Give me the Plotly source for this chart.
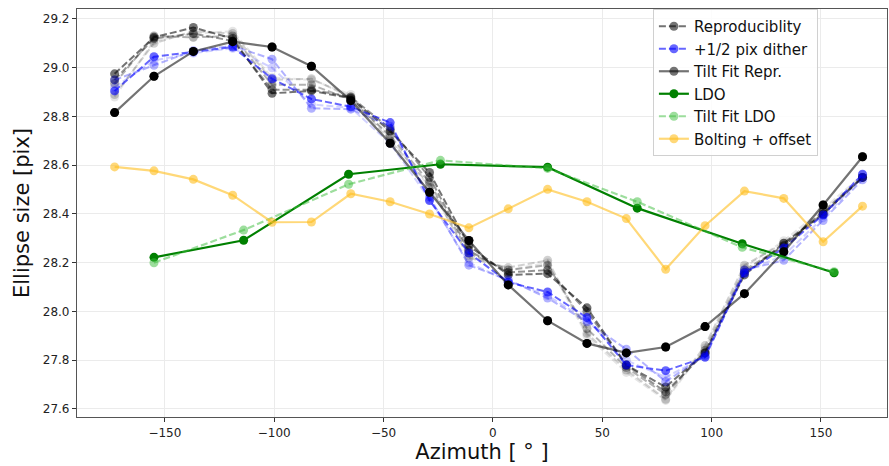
import plotly.graph_objects as go

# Azimuth sampling of the repeated measurements [deg]
azimuth = [-173, -155, -137, -119, -101, -83, -65, -47, -29, -11,
           7, 25, 43, 61, 79, 97, 115, 133, 151, 169]

# Reproducibility runs (same setup, repeated)
repro_1 = [28.975, 29.125, 29.165, 29.120, 28.895, 28.905, 28.875, 28.740, 28.570, 28.270,
           28.150, 28.155, 28.015, 27.780, 27.690, 27.830, 28.150, 28.280, 28.400, 28.550]
repro_2 = [28.950, 29.120, 29.140, 29.110, 28.910, 28.910, 28.880, 28.750, 28.550, 28.250,
           28.160, 28.170, 28.000, 27.780, 27.670, 27.830, 28.160, 28.270, 28.400, 28.550]
repro_3 = [28.935, 29.130, 29.125, 29.130, 28.930, 28.930, 28.870, 28.720, 28.530, 28.240,
           28.170, 28.190, 27.930, 27.770, 27.660, 27.840, 28.170, 28.270, 28.410, 28.550]
repro_4 = [28.890, 29.100, 29.150, 29.140, 28.950, 28.955, 28.880, 28.700, 28.520, 28.220,
           28.180, 28.210, 27.910, 27.760, 27.640, 27.860, 28.190, 28.280, 28.410, 28.550]
repro_5 = [28.880, 29.110, 29.140, 29.150, 28.960, 28.950, 28.890, 28.710, 28.510, 28.230,
           28.170, 28.200, 27.900, 27.750, 27.635, 27.850, 28.180, 28.290, 28.420, 28.560]

# Half-pixel dithered runs
dither_1 = [28.905, 29.045, 29.065, 29.085, 28.955, 28.872, 28.840, 28.775, 28.455, 28.240,
            28.120, 28.080, 27.975, 27.780, 27.757, 27.812, 28.157, 28.260, 28.396, 28.563]
dither_2 = [28.950, 29.010, 29.070, 29.090, 29.035, 28.834, 28.830, 28.760, 28.470, 28.190,
            28.130, 28.055, 27.958, 27.845, 27.712, 27.820, 28.170, 28.210, 28.373, 28.540]
dither_3 = [28.920, 29.030, 29.060, 29.080, 29.000, 28.850, 28.835, 28.690, 28.460, 28.200,
            28.125, 28.065, 27.965, 27.800, 27.730, 27.815, 28.165, 28.230, 28.385, 28.550]

# Tilt fit to the reproducibility runs
tilt_fit_repr = [28.816, 28.965, 29.067, 29.107, 29.085, 29.006, 28.865, 28.690, 28.489, 28.291,
                 28.109, 27.962, 27.869, 27.830, 27.854, 27.938, 28.073, 28.245, 28.437, 28.635]

# Bolting + offset
bolting = [28.593, 28.577, 28.542, 28.477, 28.366, 28.367, 28.483, 28.450, 28.400, 28.343,
           28.421, 28.501, 28.450, 28.381, 28.173, 28.352, 28.494, 28.464, 28.286, 28.432]

# LDO azimuths and values
azimuth_ldo = [-155, -114, -66, -24, 25, 66, 114, 156]
ldo = [28.222, 28.292, 28.563, 28.604, 28.592, 28.424, 28.278, 28.159]
tilt_fit_ldo = [28.200, 28.334, 28.522, 28.620, 28.587, 28.450, 28.263, 28.163]

FONT = "DejaVu Sans"

fig = go.Figure()

repro_runs = [(repro_1, 0.55), (repro_2, 0.42), (repro_3, 0.3), (repro_4, 0.18), (repro_5, 0.1)]
for i, (vals, a) in enumerate(repro_runs):
    c = f"rgba(0,0,0,{a})"
    fig.add_trace(go.Scatter(
        x=azimuth, y=vals, mode="lines+markers", name="Reproduciblity",
        legendgroup="repro", showlegend=(i == 0),
        line=dict(color=c, width=2, dash="7px,3px"),
        marker=dict(color=c, size=9),
    ))

dither_runs = [(dither_1, 0.6), (dither_2, 0.3), (dither_3, 0.18)]
for i, (vals, a) in enumerate(dither_runs):
    c = f"rgba(0,0,255,{a})"
    fig.add_trace(go.Scatter(
        x=azimuth, y=vals, mode="lines+markers", name="+1/2 pix dither",
        legendgroup="dither", showlegend=(i == 0),
        line=dict(color=c, width=2, dash="7px,3px"),
        marker=dict(color=c, size=9),
    ))

fig.add_trace(go.Scatter(
    x=azimuth, y=tilt_fit_repr, mode="lines+markers", name="Tilt Fit Repr.",
    legendgroup="tfr",
    line=dict(color="rgba(0,0,0,0.55)", width=2.2),
    marker=dict(color="rgba(0,0,0,0.55)", size=9),
))
fig.add_trace(go.Scatter(
    x=azimuth, y=tilt_fit_repr, mode="markers", showlegend=False, legendgroup="tfr",
    marker=dict(color="black", size=9),
))

fig.add_trace(go.Scatter(
    x=azimuth_ldo, y=ldo, mode="lines+markers", name="LDO",
    line=dict(color="green", width=2.2),
    marker=dict(color="green", size=9),
))
fig.add_trace(go.Scatter(
    x=azimuth_ldo, y=tilt_fit_ldo, mode="lines+markers", name="Tilt Fit LDO",
    line=dict(color="rgba(60,190,60,0.5)", width=2.2, dash="7px,3px"),
    marker=dict(color="rgba(60,190,60,0.5)", size=9),
))
fig.add_trace(go.Scatter(
    x=azimuth, y=bolting, mode="lines+markers", name="Bolting + offset",
    line=dict(color="rgba(255,190,30,0.6)", width=2.2),
    marker=dict(color="rgba(255,190,30,0.6)", size=9),
))

axis_common = dict(
    showgrid=True, gridcolor="#ebebeb", gridwidth=1,
    showline=True, linecolor="#555", linewidth=1.2, mirror=True,
    ticks="outside", ticklen=4, tickcolor="#333",
    tickfont=dict(family=FONT, size=12, color="#222"),
    zeroline=False,
)

fig.update_layout(
    width=889, height=466,
    margin=dict(l=77, r=2, t=9, b=49),
    paper_bgcolor="white", plot_bgcolor="white",
    font=dict(family=FONT, color="#111"),
    xaxis=dict(
        range=[-190.2, 180.2], tickvals=[-150, -100, -50, 0, 50, 100, 150],
        ticktext=["\u2212150", "\u2212100", "\u221250", "0", "50", "100", "150"],
        title=dict(text="Azimuth [ \u00b0 ]", font=dict(family=FONT, size=21), standoff=5),
        **axis_common,
    ),
    yaxis=dict(
        range=[27.567, 29.241], tickvals=[27.6, 27.8, 28.0, 28.2, 28.4, 28.6, 28.8, 29.0, 29.2],
        tickformat=".1f",
        title=dict(text="Ellipse size [pix]", font=dict(family=FONT, size=21), standoff=7),
        **axis_common,
    ),
    legend=dict(
        x=0.711, y=1.0, xanchor="left", yanchor="top",
        bgcolor="rgba(255,255,255,0.85)", bordercolor="#d0d0d0", borderwidth=1,
        font=dict(family=FONT, size=15, color="#111"),
        tracegroupgap=0,
    ),
    showlegend=True,
)

fig.write_html("out.html")
